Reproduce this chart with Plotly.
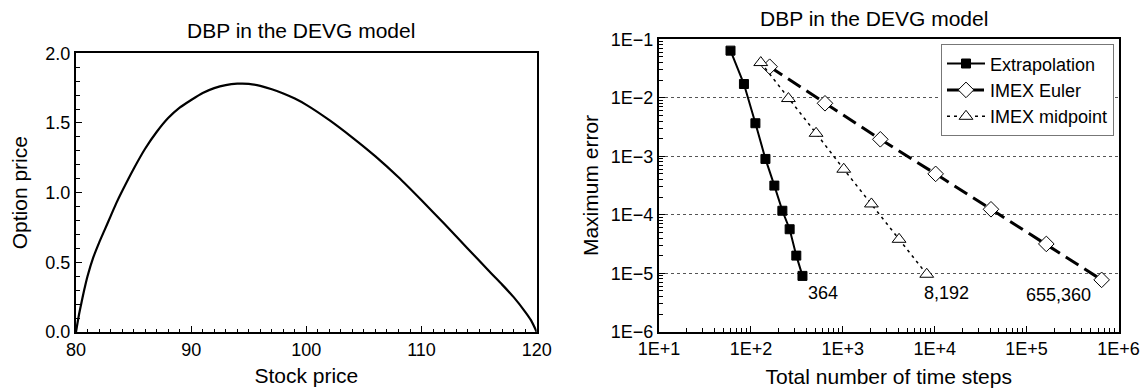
import numpy as np
import plotly.graph_objects as go

# ---------------- data ----------------
# Left panel: option price vs stock price
stock_price = [80, 80.25, 80.5, 80.75, 81, 81.5, 82, 82.5, 83, 83.5,
               84, 85, 86, 87, 88, 89, 90, 91, 92, 93,
               94, 95, 96, 97, 98, 99, 100, 102, 104, 106,
               108, 110, 112, 114, 116, 117, 118, 119, 119.5, 120]
option_price = [0.0, 0.12, 0.22, 0.315, 0.4, 0.535, 0.64, 0.735, 0.83, 0.925,
                1.01, 1.17, 1.315, 1.435, 1.535, 1.61, 1.665, 1.715, 1.75, 1.772,
                1.782, 1.781, 1.766, 1.742, 1.712, 1.675, 1.63, 1.52, 1.395, 1.26,
                1.11, 0.945, 0.775, 0.6, 0.425, 0.34, 0.25, 0.145, 0.085, 0.0]

# Right panel: maximum error vs total number of time steps
extrap_steps = [60, 84, 112, 144, 180, 220, 264, 312, 364]
extrap_err = [6.4e-2, 1.72e-2, 3.67e-3, 9.0e-4, 3.15e-4, 1.17e-4, 5.65e-5, 2.0e-5, 9.0e-6]

euler_steps = [160, 640, 2560, 10240, 40960, 163840, 655360]
euler_err = [3.4e-2, 8.05e-3, 1.95e-3, 5.0e-4, 1.24e-4, 3.17e-5, 7.7e-6]

mid_steps = [128, 256, 512, 1024, 2048, 4096, 8192]
mid_err = [4.0e-2, 9.7e-3, 2.47e-3, 6.0e-4, 1.53e-4, 3.8e-5, 9.6e-6]

x_tick_vals = [1e1, 1e2, 1e3, 1e4, 1e5, 1e6]
x_tick_text = ["1E+1", "1E+2", "1E+3", "1E+4", "1E+5", "1E+6"]
y_tick_vals = [1e-6, 1e-5, 1e-4, 1e-3, 1e-2, 1e-1]
y_tick_text = ["1E\u22126", "1E\u22125", "1E\u22124", "1E\u22123", "1E\u22122", "1E\u22121"]

end_labels = ["364", "8,192", "655,360"]
end_label_x = [10**2.78, 10**4.131, 10**5.349]
end_label_y = [10**-5.343, 10**-5.343, 10**-5.372]

title_text = "DBP in the DEVG model"

# ---------------- figure ----------------
FONT = "Liberation Sans, Arial, Helvetica, sans-serif"
# the page body adds an 8px offset; lay out in window pixels and compensate
OFF = 8
W, H = 1148 - OFF, 390 - OFF


def px(x):
    return (x - OFF) / W


def py(y):
    return 1 - (y - OFF) / H


fig = go.Figure()

fig.add_trace(go.Scatter(
    x=stock_price, y=option_price, mode="lines",
    line=dict(color="black", width=2.2, shape="spline", smoothing=0.8),
    xaxis="x", yaxis="y", showlegend=False, hoverinfo="skip"))

fig.add_trace(go.Scatter(
    x=extrap_steps, y=extrap_err, mode="lines+markers", name="Extrapolation",
    line=dict(color="black", width=2),
    marker=dict(symbol="square", size=9, color="black", line=dict(color="black", width=1)),
    xaxis="x2", yaxis="y2"))
fig.add_trace(go.Scatter(
    x=euler_steps, y=euler_err, mode="lines+markers", name="IMEX Euler",
    line=dict(color="black", width=3, dash="15px,7px"),
    marker=dict(symbol="diamond", size=12, color="white", line=dict(color="black", width=1)),
    xaxis="x2", yaxis="y2"))
fig.add_trace(go.Scatter(
    x=mid_steps, y=mid_err, mode="lines+markers", name="IMEX midpoint",
    line=dict(color="black", width=1.5, dash="3px,4px"),
    marker=dict(symbol="triangle-up", size=12, color="white", line=dict(color="black", width=1)),
    xaxis="x2", yaxis="y2"))

axis_common = dict(showline=True, linecolor="black", linewidth=2, mirror=True,
                   ticks="inside", ticklen=6, tickwidth=1, tickcolor="black",
                   tickfont=dict(family=FONT, size=18, color="black"),
                   showgrid=False, zeroline=False, automargin=False)

minor_x_log = [m * 10**e for e in range(1, 6) for m in range(2, 10)]
minor_y_log = [m * 10.0**e for e in range(-6, -1) for m in range(2, 10)]

fig.update_layout(
    template="none",
    width=W, height=H,
    margin=dict(l=0, r=0, t=0, b=0, autoexpand=False),
    paper_bgcolor="white", plot_bgcolor="white",
    font=dict(family=FONT, color="black"),
    xaxis=dict(domain=[px(76), px(536.7)], range=[80, 120], dtick=10, tick0=80,
               minor=dict(ticks="inside", ticklen=3.5, dtick=1, tickcolor="black", tickwidth=1),
               title=dict(text="Stock price", font=dict(size=21), standoff=10),
               anchor="y", **axis_common),
    yaxis=dict(domain=[py(332), py(53.3)], range=[0, 2], dtick=0.5, tick0=0, tickformat=".1f",
               minor=dict(ticks="inside", ticklen=3.5, dtick=0.1, tickcolor="black", tickwidth=1),
               title=dict(text="Option price", font=dict(size=21), standoff=16),
               anchor="x", **axis_common),
    xaxis2=dict(domain=[px(659), px(1118.5)], type="log", range=[1, 6],
                tickmode="array", tickvals=x_tick_vals, ticktext=x_tick_text,
                minor=dict(ticks="inside", ticklen=4, tickmode="array", tickvals=minor_x_log,
                           tickcolor="black", tickwidth=1),
                title=dict(text="Total number of time steps", font=dict(size=21), standoff=11),
                anchor="y2", **axis_common),
    yaxis2=dict(domain=[py(331.7), py(39.3)], type="log", range=[-6, -1],
                tickmode="array", tickvals=y_tick_vals, ticktext=y_tick_text,
                minor=dict(ticks="inside", ticklen=4, tickmode="array", tickvals=minor_y_log,
                           tickcolor="black", tickwidth=1),
                title=dict(text="Maximum error", font=dict(size=21), standoff=7),
                anchor="x2", **axis_common),
    legend=dict(x=px(1114), xanchor="right", y=py(44.3), yanchor="top",
                bgcolor="white", bordercolor="#777777", borderwidth=1,
                font=dict(family=FONT, size=18, color="black"),
                itemwidth=38, tracegroupgap=0),
    showlegend=True,
)
# dotted horizontal grid on right panel
fig.update_layout(yaxis2_showgrid=True, yaxis2_gridcolor="#555555", yaxis2_gridwidth=1,
                  yaxis2_griddash="dot")

annotations = [
    dict(text=title_text, x=px(300.8), y=py(30.7), xref="paper", yref="paper",
         xanchor="center", yanchor="middle", showarrow=False, font=dict(size=21)),
    dict(text=title_text, x=px(874), y=py(18.3), xref="paper", yref="paper",
         xanchor="center", yanchor="middle", showarrow=False, font=dict(size=21)),
]
for t, lx, ly in zip(end_labels, end_label_x, end_label_y):
    annotations.append(dict(text=t, x=np.log10(lx), y=np.log10(ly), xref="x2", yref="y2",
                            xanchor="center", yanchor="middle", showarrow=False,
                            font=dict(size=18)))
fig.update_layout(annotations=annotations)

fig.write_html("out.html")
